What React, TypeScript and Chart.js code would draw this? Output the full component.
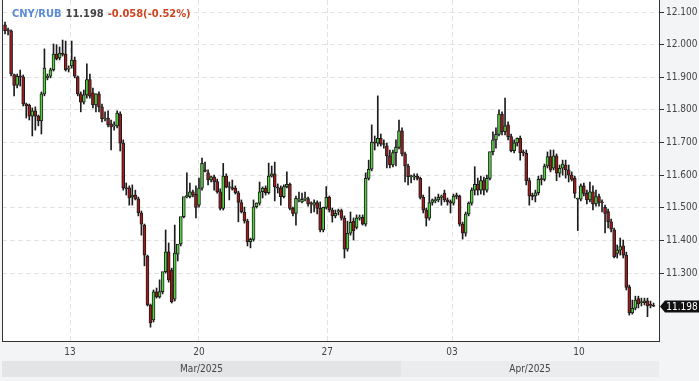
import React, { useEffect, useRef } from 'react';
import { Chart, registerables } from 'chart.js';

Chart.register(...registerables);

const symbol = 'CNY/RUB';
const lastPriceText = '11.198';
const changeText = '-0.058(-0.52%)';

const opens = [
  12.061, 12.043, 12.042, 11.908, 11.876, 11.902, 11.901, 11.818, 11.815, 11.781,
  11.797, 11.781, 11.766, 11.849, 11.899, 11.903, 11.923, 11.971, 11.959, 11.971,
  11.971, 11.925, 11.935, 11.953, 11.901, 11.849, 11.824, 11.846, 11.893, 11.852,
  11.815, 11.849, 11.809, 11.772, 11.775, 11.757, 11.751, 11.751, 11.787, 11.698,
  11.561, 11.561, 11.533, 11.539, 11.527, 11.484, 11.447, 11.352, 11.202, 11.156,
  11.242, 11.227, 11.243, 11.304, 11.365, 11.309, 11.220, 11.358, 11.389,
  11.473, 11.534, 11.534, 11.549, 11.541, 11.508, 11.560, 11.616, 11.607,
  11.585, 11.595, 11.580, 11.549, 11.498, 11.597, 11.562, 11.562, 11.560,
  11.546, 11.516, 11.486, 11.459, 11.396, 11.403, 11.503, 11.514, 11.549, 11.560,
  11.546, 11.597, 11.604, 11.561, 11.560, 11.534, 11.565, 11.572,
  11.498, 11.483, 11.524, 11.518, 11.527, 11.528, 11.512, 11.508, 11.516,
  11.498, 11.432, 11.501, 11.532, 11.493, 11.475, 11.487, 11.491, 11.468,
  11.373, 11.422, 11.459, 11.440, 11.468, 11.471, 11.450, 11.590, 11.618,
  11.701, 11.698, 11.713, 11.695, 11.690, 11.659, 11.631, 11.669, 11.685, 11.736,
  11.665, 11.628, 11.595, 11.595, 11.597, 11.590, 11.532, 11.493, 11.468,
  11.516, 11.522, 11.524, 11.532, 11.544, 11.524, 11.519, 11.514,
  11.536, 11.536, 11.450, 11.422, 11.481, 11.514, 11.554, 11.572, 11.554,
  11.583, 11.554, 11.590, 11.672, 11.708, 11.725, 11.787, 11.733, 11.754,
  11.718, 11.675, 11.699, 11.713, 11.669, 11.667, 11.583, 11.536, 11.536,
  11.546, 11.587, 11.587, 11.628, 11.657, 11.621, 11.659, 11.606,
  11.621, 11.631, 11.616, 11.600, 11.590, 11.526, 11.526, 11.567, 11.544, 11.524,
  11.549, 11.512, 11.534, 11.516, 11.501, 11.488, 11.457, 11.432, 11.360,
  11.370, 11.383, 11.355, 11.258, 11.178, 11.192, 11.222, 11.209, 11.209,
  11.215, 11.202, 11.199,
];

const highs = [
  12.069, 12.051, 12.045, 11.910, 11.910, 11.922, 11.907, 11.821, 11.818, 11.806,
  11.809, 11.784, 11.855, 11.987, 11.910, 11.928, 12.002, 12.000, 11.993, 12.014,
  12.011, 11.935, 12.011, 11.962, 11.904, 11.855, 11.861, 11.941, 11.910, 11.867,
  11.849, 11.855, 11.818, 11.794, 11.797, 11.769, 11.763, 11.797, 11.794, 11.708,
  11.576, 11.567, 11.570, 11.554, 11.533, 11.490, 11.450, 11.355, 11.205, 11.248,
  11.254, 11.279, 11.263, 11.432, 11.392, 11.315, 11.447, 11.377, 11.401,
  11.481, 11.607, 11.576, 11.554, 11.567, 11.591, 11.652, 11.640, 11.616,
  11.597, 11.600, 11.588, 11.558, 11.636, 11.604, 11.579, 11.585, 11.567,
  11.551, 11.524, 11.502, 11.465, 11.407, 11.524, 11.515, 11.579, 11.564, 11.567,
  11.637, 11.628, 11.640, 11.573, 11.567, 11.570, 11.610, 11.576,
  11.502, 11.536, 11.548, 11.545, 11.548, 11.533, 11.518, 11.524, 11.521,
  11.518, 11.502, 11.565, 11.536, 11.499, 11.493, 11.496, 11.496, 11.475,
  11.459, 11.487, 11.469, 11.478, 11.478, 11.478, 11.607, 11.646, 11.754,
  11.720, 11.843, 11.726, 11.708, 11.698, 11.677, 11.677, 11.708, 11.769, 11.745,
  11.671, 11.634, 11.600, 11.604, 11.604, 11.594, 11.539, 11.499, 11.564,
  11.527, 11.533, 11.542, 11.539, 11.554, 11.530, 11.524, 11.542,
  11.545, 11.539, 11.456, 11.487, 11.518, 11.561, 11.626, 11.591, 11.597,
  11.594, 11.600, 11.616, 11.733, 11.745, 11.800, 11.794, 11.836, 11.763,
  11.726, 11.708, 11.714, 11.720, 11.677, 11.677, 11.591, 11.545, 11.554,
  11.597, 11.600, 11.634, 11.671, 11.677, 11.677, 11.665, 11.631,
  11.646, 11.646, 11.631, 11.610, 11.597, 11.530, 11.573, 11.576, 11.554, 11.579,
  11.567, 11.554, 11.542, 11.524, 11.508, 11.496, 11.465, 11.438, 11.386,
  11.407, 11.401, 11.364, 11.263, 11.217, 11.229, 11.229, 11.223, 11.223,
  11.223, 11.214, 11.208,
];

const lows = [
  12.033, 12.030, 11.904, 11.843, 11.867, 11.873, 11.812, 11.775, 11.769, 11.720,
  11.738, 11.751, 11.726, 11.843, 11.892, 11.898, 11.919, 11.953, 11.953, 11.965,
  11.919, 11.916, 11.928, 11.898, 11.843, 11.794, 11.818, 11.836, 11.836, 11.806,
  11.794, 11.794, 11.763, 11.766, 11.748, 11.677, 11.738, 11.745, 11.674, 11.554,
  11.539, 11.508, 11.508, 11.524, 11.475, 11.416, 11.322, 11.199, 11.134, 11.150,
  11.223, 11.223, 11.236, 11.300, 11.272, 11.208, 11.214, 11.337, 11.383,
  11.469, 11.530, 11.530, 11.533, 11.469, 11.502, 11.554, 11.610, 11.570,
  11.579, 11.554, 11.545, 11.493, 11.493, 11.561, 11.524, 11.554, 11.542,
  11.457, 11.484, 11.453, 11.383, 11.377, 11.398, 11.499, 11.508, 11.530, 11.539,
  11.542, 11.594, 11.521, 11.545, 11.508, 11.530, 11.561, 11.493,
  11.475, 11.447, 11.518, 11.515, 11.521, 11.505, 11.484, 11.487, 11.481,
  11.426, 11.426, 11.496, 11.487, 11.456, 11.469, 11.478, 11.462, 11.346,
  11.367, 11.416, 11.401, 11.435, 11.462, 11.447, 11.444, 11.585, 11.613,
  11.677, 11.689, 11.689, 11.683, 11.622, 11.622, 11.625, 11.628, 11.680, 11.659,
  11.579, 11.570, 11.576, 11.585, 11.585, 11.527, 11.484, 11.444, 11.462,
  11.508, 11.515, 11.518, 11.508, 11.518, 11.508, 11.484, 11.508,
  11.527, 11.444, 11.404, 11.413, 11.475, 11.508, 11.539, 11.539, 11.542,
  11.539, 11.548, 11.585, 11.662, 11.683, 11.720, 11.723, 11.723, 11.708,
  11.671, 11.668, 11.689, 11.646, 11.659, 11.570, 11.508, 11.524, 11.518,
  11.539, 11.570, 11.582, 11.622, 11.610, 11.616, 11.583, 11.594,
  11.600, 11.591, 11.579, 11.582, 11.530, 11.430, 11.521, 11.536, 11.512, 11.518,
  11.493, 11.505, 11.505, 11.487, 11.423, 11.438, 11.426, 11.346, 11.346,
  11.355, 11.346, 11.248, 11.171, 11.174, 11.187, 11.193, 11.199, 11.202,
  11.166, 11.193, 11.197,
];

const closes = [
  12.043, 12.042, 11.910, 11.875, 11.903, 11.901, 11.818, 11.813, 11.781, 11.797,
  11.781, 11.766, 11.849, 11.928, 11.903, 11.923, 11.971, 11.957, 11.974, 11.970,
  11.923, 11.928, 11.953, 11.903, 11.849, 11.824, 11.846, 11.893, 11.842, 11.815,
  11.849, 11.809, 11.772, 11.775, 11.754, 11.748, 11.754, 11.790, 11.698, 11.561,
  11.558, 11.530, 11.539, 11.527, 11.485, 11.450, 11.355, 11.202, 11.147, 11.242,
  11.227, 11.243, 11.304, 11.365, 11.279, 11.212, 11.361, 11.389, 11.473,
  11.534, 11.535, 11.549, 11.539, 11.501, 11.560, 11.636, 11.611, 11.585,
  11.595, 11.580, 11.549, 11.498, 11.597, 11.563, 11.562, 11.557, 11.546,
  11.516, 11.488, 11.460, 11.396, 11.403, 11.503, 11.514, 11.549, 11.560, 11.546,
  11.597, 11.604, 11.565, 11.560, 11.534, 11.565, 11.572, 11.498,
  11.483, 11.529, 11.526, 11.526, 11.528, 11.512, 11.511, 11.516, 11.498,
  11.432, 11.501, 11.532, 11.493, 11.475, 11.483, 11.491, 11.468, 11.373,
  11.422, 11.455, 11.430, 11.468, 11.471, 11.450, 11.590, 11.618, 11.701,
  11.698, 11.713, 11.695, 11.694, 11.659, 11.631, 11.669, 11.685, 11.736, 11.665,
  11.628, 11.595, 11.596, 11.595, 11.590, 11.532, 11.493, 11.468, 11.516,
  11.524, 11.522, 11.532, 11.536, 11.524, 11.519, 11.514, 11.536,
  11.535, 11.450, 11.422, 11.481, 11.514, 11.554, 11.572, 11.554, 11.583,
  11.554, 11.590, 11.672, 11.708, 11.725, 11.787, 11.733, 11.751, 11.718,
  11.675, 11.699, 11.713, 11.669, 11.668, 11.583, 11.536, 11.535, 11.546,
  11.587, 11.586, 11.628, 11.657, 11.616, 11.659, 11.606, 11.621,
  11.634, 11.616, 11.600, 11.587, 11.544, 11.526, 11.567, 11.544, 11.524, 11.549,
  11.512, 11.534, 11.516, 11.515, 11.483, 11.457, 11.434, 11.350, 11.370,
  11.381, 11.355, 11.256, 11.178, 11.192, 11.217, 11.205, 11.209, 11.215,
  11.199, 11.201, 11.198,
];

const yTickValues = [11.3, 11.4, 11.5, 11.6, 11.7, 11.8, 11.9, 12.0, 12.1];
const yMin = 11.0916;
const yMax = 12.1368;

const xMin = -1;
const xMax = 215.8;
const xTickLabels = ['13', '20', '27', '03', '10'];
const xTickIndex = [21.45, 64.0, 106.3, 147.5, 189.4];

const monthLabels = ['Mar/2025', 'Apr/2025'];
const monthStartIndex = [-1, 130.7];

const FONT = "'DejaVu Sans Condensed', 'DejaVu Sans', sans-serif";
const GREEN = '#55d140';
const RED = '#a11b1b';
const EDGE = '#1c1c1c';
const GRID = '#e2e2e2';
const AXIS = '#333333';
const TEXT = '#444444';

export default function App() {
  const ref = useRef<HTMLCanvasElement | null>(null);

  useEffect(() => {
    document.body.style.margin = '0';
    const canvas = ref.current;
    if (!canvas) return;
    const bodies = closes.map((c, i) => ({ x: i, y: [opens[i], c] }));
    const wicks = closes.map((c, i) => ({ x: i, y: [lows[i], highs[i]] }));
    const fills = closes.map((c, i) => (c >= opens[i] ? GREEN : RED));

    const deco = {
      id: 'deco',
      beforeDraw(chart: any) {
        const { ctx, chartArea: a, width, height } = chart;
        ctx.save();
        ctx.fillStyle = '#f3f4f6';
        ctx.fillRect(0, 0, width, height);
        ctx.fillStyle = '#ffffff';
        ctx.fillRect(a.left, a.top, a.right - a.left, a.bottom - a.top);
        const xs = chart.scales.x;
        const bounds = monthStartIndex.map((v) => Math.max(a.left, xs.getPixelForValue(v)));
        bounds.push(a.right);
        ctx.font = `10px ${FONT}`;
        ctx.textAlign = 'center';
        ctx.textBaseline = 'middle';
        monthLabels.forEach((m, i) => {
          const x0 = bounds[i];
          const x1 = bounds[i + 1];
          ctx.fillStyle = i === 0 ? '#e3e4e6' : '#ebecee';
          ctx.fillRect(x0, a.bottom + 20, x1 - x0, 16);
          ctx.fillStyle = TEXT;
          ctx.fillText(m, (x0 + x1) / 2, a.bottom + 28.5);
        });
        ctx.restore();
      },
      afterDraw(chart: any) {
        const { ctx, chartArea: a, width } = chart;
        ctx.save();
        ctx.strokeStyle = AXIS;
        ctx.lineWidth = 1;
        ctx.beginPath();
        ctx.moveTo(a.left + 0.5, a.top);
        ctx.lineTo(a.left + 0.5, a.bottom);
        ctx.stroke();
        ctx.font = `bold 11px ${FONT}`;
        ctx.textAlign = 'left';
        ctx.textBaseline = 'middle';
        let x = 12;
        const ty = 14;
        const parts: [string, string][] = [
          [symbol, '#5b8bd8'],
          [lastPriceText, '#444444'],
          [changeText, '#cc4420'],
        ];
        parts.forEach(([t, c]) => {
          ctx.fillStyle = c;
          ctx.fillText(t, x, ty);
          x += ctx.measureText(t).width + 4;
        });
        const ys = chart.scales.y;
        const last = closes[closes.length - 1];
        const py = Math.round(ys.getPixelForValue(last)) + 0.5;
        ctx.fillStyle = '#111111';
        ctx.beginPath();
        ctx.moveTo(a.right + 1, py);
        ctx.lineTo(a.right + 6, py - 6);
        ctx.lineTo(width, py - 6);
        ctx.lineTo(width, py + 6);
        ctx.lineTo(a.right + 6, py + 6);
        ctx.closePath();
        ctx.fill();
        ctx.fillStyle = '#ffffff';
        ctx.font = `10px ${FONT}`;
        ctx.textAlign = 'center';
        ctx.fillText(last.toFixed(3), (a.right + 6 + width) / 2, py + 0.5);
        ctx.restore();
      },
    };

    const chart = new Chart(canvas, {
      type: 'bar',
      data: {
        datasets: [
          {
            data: wicks as any,
            backgroundColor: EDGE,
            borderWidth: 0,
            barThickness: 1,
            grouped: false,
            order: 2,
          } as any,
          {
            data: bodies as any,
            backgroundColor: fills,
            borderColor: EDGE,
            borderWidth: 1,
            borderSkipped: false,
            barThickness: 3,
            minBarLength: 1,
            grouped: false,
            order: 1,
          } as any,
        ],
      },
      options: {
        animation: false,
        responsive: false,
        maintainAspectRatio: false,
        layout: { padding: { left: 2, top: 0, right: 0, bottom: 0 } },
        plugins: { legend: { display: false }, tooltip: { enabled: false } },
        scales: {
          x: {
            type: 'linear',
            min: xMin,
            max: xMax,
            offset: false,
            afterBuildTicks: (s: any) => {
              s.ticks = xTickIndex.map((v) => ({ value: v }));
            },
            afterFit: (s: any) => {
              s.height = 40;
              s.paddingLeft = 0;
              s.paddingRight = 0;
            },
            ticks: {
              autoSkip: false,
              maxRotation: 0,
              padding: 5,
              color: TEXT,
              font: { family: FONT, size: 10 },
              callback: (_v: any, i: number) => xTickLabels[i],
            },
            grid: { color: GRID, drawTicks: false, offset: false },
            border: { display: true, color: AXIS, dash: [5, 3] },
          },
          y: {
            position: 'right',
            min: yMin,
            max: yMax,
            afterBuildTicks: (s: any) => {
              s.ticks = yTickValues.map((v) => ({ value: v }));
            },
            afterFit: (s: any) => {
              s.width = 40;
              s.paddingTop = 0;
              s.paddingBottom = 0;
            },
            ticks: {
              padding: 2,
              color: TEXT,
              font: { family: FONT, size: 10 },
              callback: (v: any) => Number(v).toFixed(3),
            },
            grid: { color: GRID, tickColor: AXIS, tickLength: 5, tickBorderDash: [], offset: false },
            border: { display: true, color: AXIS, dash: [5, 3] },
          },
        },
      } as any,
      plugins: [deco],
    });

    return () => chart.destroy();
  }, []);

  return (
    <div style={{ width: 699, height: 381 }}>
      <canvas ref={ref} width={699} height={381} />
    </div>
  );
}
